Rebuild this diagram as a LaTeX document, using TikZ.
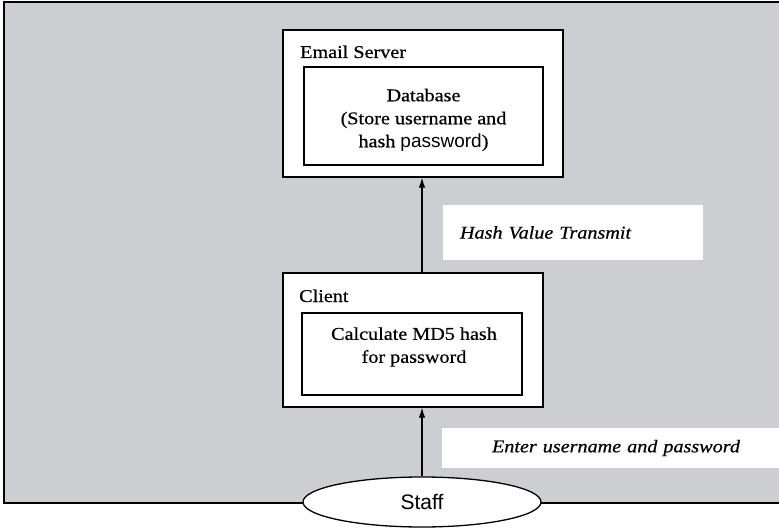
\documentclass[tikz,border=0pt]{standalone}
\usepackage{fontspec}
\setmainfont{Liberation Serif}[FakeStretch=1.12,FakeBold=0.6]
\newfontfamily\arialfont{Liberation Sans}
\usepackage{xcolor}
\usetikzlibrary{shapes,arrows,arrows.meta,positioning}
\definecolor{scangray}{RGB}{205,206,210}

\begin{document}
\begin{tikzpicture}[
    x=1pt, y=-1pt,
    font=\fontsize{18}{23}\selectfont,
    outer/.style={rectangle, draw, fill=white, line width=1.3pt},
    inner/.style={rectangle, draw, fill=white, line width=1.1pt},
    tag/.style={rectangle, fill=white, inner ysep=0pt, align=left, font=\fontsize{18}{23}\selectfont\itshape},
    arrow/.style={-{Latex[length=10pt,width=6.5pt]}, line width=1.2pt}
]
    \useasboundingbox (0,0) rectangle (779,529);
    % scanned background
    \fill[scangray] (4,2) rectangle (779,503);
    \draw[line width=1.3pt] (779,2) -- (4,2) -- (4,503) -- (779,503);

    \node[outer, minimum width=280pt, minimum height=147pt] (server) at (423,103.5) {};
    \node[inner, minimum width=239pt, minimum height=98pt] (db) at (423.5,116) {};
    \node[anchor=base west, inner sep=0pt] (servername) at (300,58) {Email Server};
    \node[align=center, inner sep=0pt] (dbtext) at (423.5,120) {Database\\(Store username and\\hash {\arialfont\fontsize{19}{23}\selectfont password})};

    \node[tag, minimum height=55pt, text width=226pt, inner xsep=17pt] (hashtag) at (573,232.5) {Hash Value Transmit};

    \node[outer, minimum width=260pt, minimum height=134pt] (client) at (413,340) {};
    \node[inner, minimum width=220pt, minimum height=82pt] (calc) at (412,354) {};
    \node[anchor=base west, inner sep=0pt] (clientname) at (299,302) {Client};
    \node[align=center, inner sep=0pt] (calctext) at (414,347) {Calculate MD5 hash\\for password};

    \node[tag, minimum height=40pt, text width=290pt, inner xsep=25pt] (entertag) at (612,448) {\hspace*{25pt}Enter username and password};

    \node[ellipse, draw, fill=white, line width=1.3pt, minimum width=238pt, minimum height=50pt,
          font=\arialfont\fontsize{21}{24}\selectfont] (staff) at (422,502) {Staff};

    \draw[arrow] (staff.north) -- (staff.north |- client.south);
    \draw[arrow] (staff.north |- client.north) -- (staff.north |- server.south);
\end{tikzpicture}
\end{document}
